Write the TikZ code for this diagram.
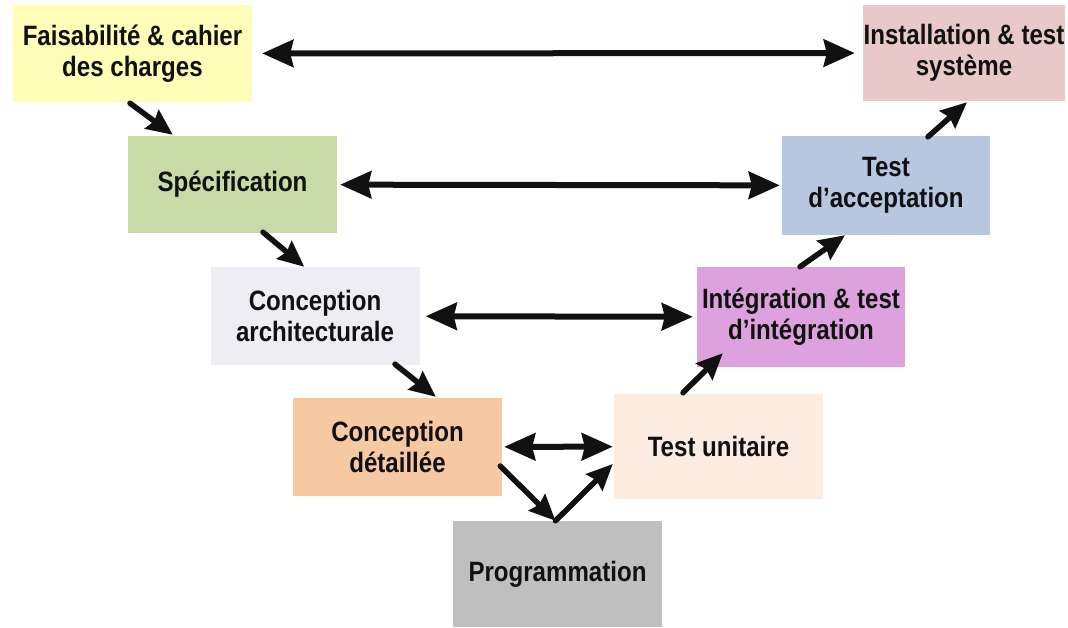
\documentclass[tikz,border=0pt]{standalone}
\usepackage{fontspec}
\setmainfont{Liberation Sans}[FakeStretch=0.86]
\usepackage{xcolor}
\usepackage{tikz}
\usetikzlibrary{arrows.meta}
\definecolor{ink}{HTML}{111111}
\definecolor{yellowbg}{HTML}{FFFDB8}
\definecolor{greenbg}{HTML}{C8DAA6}
\definecolor{pinkbg}{HTML}{E9C9C8}
\definecolor{bluebg}{HTML}{B6C7DF}
\definecolor{lilacbg}{HTML}{EEEDF3}
\definecolor{violetbg}{HTML}{DDA2DD}
\definecolor{orangebg}{HTML}{F7C9A3}
\definecolor{creambg}{HTML}{FCEBE1}
\definecolor{greybg}{HTML}{BFBFBF}
\tikzset{
  box/.style={
    rectangle,
    inner sep=0pt,
    minimum width=209pt,
    minimum height=98pt,
    align=center,
    text=ink,
    font=\fontsize{28}{31}\selectfont\bfseries
  },
  both/.style={draw=ink, line width=6pt,
    {Stealth[length=31pt,width=27pt,inset=3pt]}-{Stealth[length=31pt,width=27pt,inset=3pt]}},
  flow/.style={draw=ink, line width=5.5pt, line cap=round,
    -{Stealth[length=26pt,width=23pt,inset=3pt]}}
}

\begin{document}
\begin{tikzpicture}[x=1pt,y=-1pt]
  \useasboundingbox (0,0) rectangle (1068,627);

  % left branch of the V
  \node[box, fill=yellowbg, minimum width=239pt, minimum height=97pt] (faisa) at (132.5,53.5) {Faisabilité \& cahier\\des charges};
  \node[box, fill=greenbg, minimum height=97pt] (spec) at (232.5,184.5) {Spécification};
  \node[box, fill=lilacbg] (archi) at (315,316) {Conception\\architecturale};
  \node[box, fill=orangebg] (detail) at (397.5,447) {Conception\\détaillée};

  % bottom
  \node[box, fill=greybg, minimum height=106pt] (prog) at (557.5,574) {Programmation};

  % right branch of the V
  \node[box, fill=creambg, minimum height=105pt] (unit) at (718.5,446.5) {Test unitaire};
  \node[box, fill=violetbg, minimum width=208pt, minimum height=100pt] (integ) at (801,317) {Intégration \& test\\d’intégration};
  \node[box, fill=bluebg, minimum width=208pt, minimum height=99pt] (accept) at (886,185.5) {Test\\d’acceptation};
  \node[box, fill=pinkbg, minimum width=202pt, minimum height=96pt] (install) at (964,53) {Installation \& test\\système};

  % verification links
  \draw[both, shorten <=10pt, shorten >=8pt] (faisa) -- (install);
  \draw[both, shorten <=3pt, shorten >=2pt] (spec) -- (accept);
  \draw[both, shorten <=6pt, shorten >=4pt] (archi) -- (integ);
  \draw[both, shorten <=2pt, shorten >=1pt] (detail) -- (unit);

  % going down
  \draw[flow] ([xshift=-2.5pt,yshift=-1pt]faisa.south) -- ([xshift=45pt,yshift=1pt]spec.north west);
  \draw[flow] ([xshift=30.5pt,yshift=1pt]spec.south) -- ([xshift=94pt]archi.north west);
  \draw[flow] ([xshift=80pt,yshift=1pt]archi.south) -- ([xshift=143pt,yshift=1pt]detail.north west);
  \draw[flow] ([xshift=-2pt,yshift=-19pt]detail.east) -- ([xshift=-2pt]prog.north);

  % going up
  \draw[flow] ([xshift=-2pt]prog.north) -- ([xshift=-1pt,yshift=-17.5pt]unit.west);
  \draw[flow] ([xshift=-35.5pt,yshift=1pt]unit.north) -- ([xshift=26pt,yshift=14pt]integ.south west);
  \draw[flow] ([xshift=-1pt]integ.north) -- ([xshift=-41pt]accept.south);
  \draw[flow] ([xshift=42pt,yshift=-1pt]accept.north) -- ([xshift=3pt,yshift=-1pt]install.south);
\end{tikzpicture}
\end{document}
